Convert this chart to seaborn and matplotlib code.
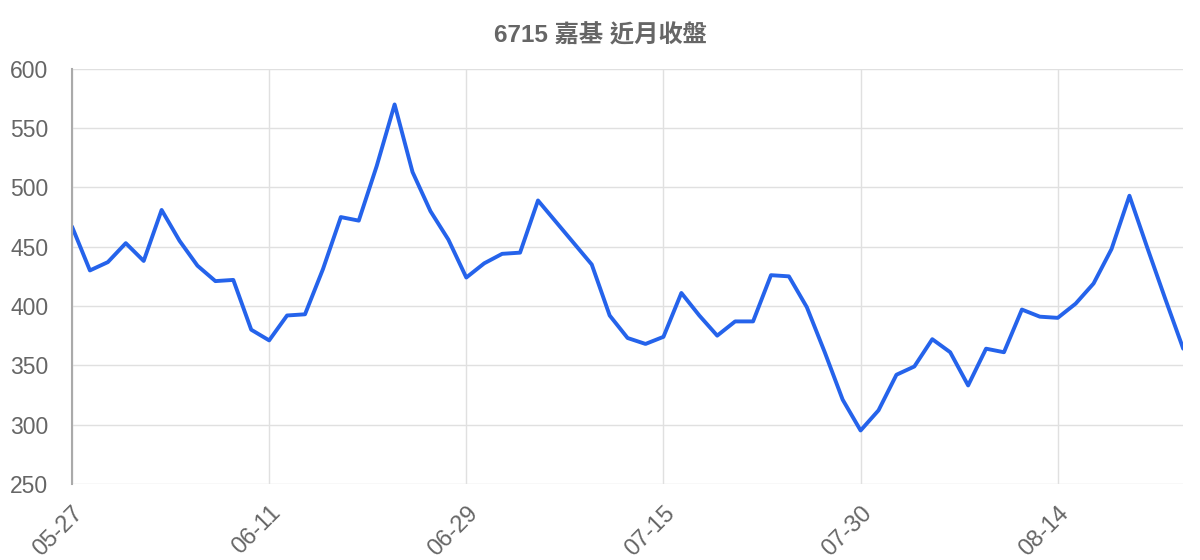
import matplotlib
matplotlib.use("Agg")
import matplotlib.pyplot as plt
import seaborn as sns
import pandas as pd

dates = [
    "05-27", "05-28", "05-29", "06-01", "06-02", "06-03", "06-04", "06-05",
    "06-08", "06-09", "06-10", "06-11", "06-12", "06-15", "06-16", "06-17",
    "06-18", "06-19", "06-20", "06-22", "06-23", "06-24", "06-29", "06-30",
    "07-01", "07-02", "07-03", "07-07", "07-08", "07-09", "07-10", "07-13",
    "07-14", "07-15", "07-16", "07-17", "07-20", "07-21", "07-22", "07-23",
    "07-24", "07-27", "07-28", "07-29", "07-30", "07-31", "08-03", "08-04",
    "08-05", "08-06", "08-07", "08-10", "08-11", "08-12", "08-13", "08-14",
    "08-17", "08-18", "08-19", "08-20", "08-21", "08-24", "08-25",
]
close = [
    467, 430, 437, 453, 438, 481, 455, 434, 421, 422,
    380, 371, 392, 393, 431, 475, 472, 518, 570, 513,
    480, 456, 424, 436, 444, 445, 489, 471, 453, 435,
    392, 373, 368, 374, 411, 392, 375, 387, 387, 426,
    425, 399, 361, 321, 295, 312, 342, 349, 372, 361,
    333, 364, 361, 397, 391, 390, 402, 419, 448, 493,
    449, 406, 364,
]
title = "6715 嘉基 近月收盤"
tick_every = 11

df = pd.DataFrame({"i": range(len(close)), "close": close})

sns.set_theme(style="white")
plt.rcParams["font.family"] = ["Liberation Sans", "Noto Sans CJK TC", "DejaVu Sans"]

fig = plt.figure(figsize=(12, 5.6), dpi=100)
ax = fig.add_axes([0.06, 0.136, 0.926, 0.741])

sns.lineplot(data=df, x="i", y="close", ax=ax, color="#2563eb", linewidth=2.8)

ax.set_xlim(0, len(close) - 1)
ax.set_ylim(250, 600)
ax.set_yticks(range(250, 601, 50))
ticks = list(range(0, len(close), tick_every))
ax.set_xticks(ticks)
ax.set_xticklabels([dates[t] for t in ticks], rotation=45, ha="right",
                   rotation_mode="anchor")

ax.grid(True, color="#e0e0e0", linewidth=1)
ax.set_axisbelow(True)
for s in ["top", "right", "bottom"]:
    ax.spines[s].set_visible(False)
ax.spines["left"].set_color("#aaaaaa")
ax.spines["left"].set_linewidth(1.5)

ax.tick_params(axis="y", length=14, color="#e0e0e0", width=1, pad=3,
               labelsize=16.5, labelcolor="#666666")
ax.tick_params(axis="x", length=12, color="#e0e0e0", width=1, pad=1,
               labelsize=17, labelcolor="#666666")
ax.xaxis.get_major_ticks()[0].tick1line.set_color("#aaaaaa")
ax.xaxis.get_major_ticks()[0].tick1line.set_markeredgewidth(1.5)

ax.set_xlabel("")
ax.set_ylabel("")
fig.text(0.5, 0.936, title, ha="center", va="center", fontsize=17.5,
         fontweight="bold", color="#666666")

fig.savefig("out.png", dpi=100)
